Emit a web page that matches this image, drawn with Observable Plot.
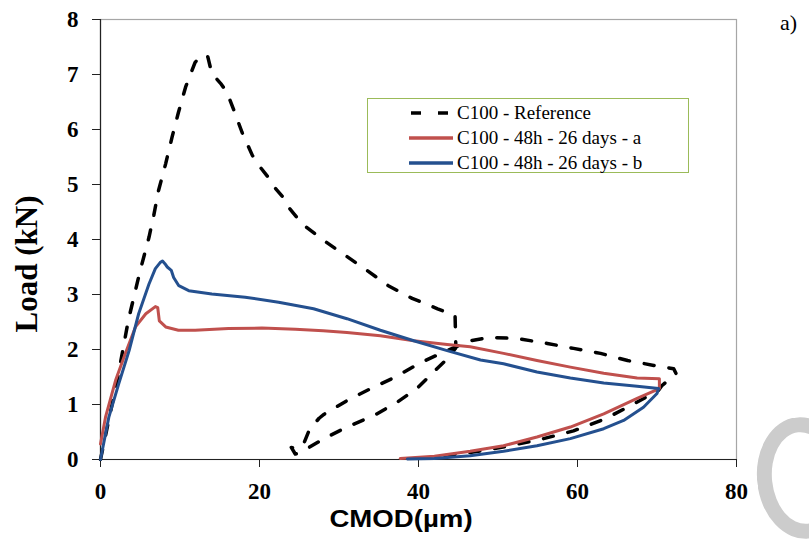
<!DOCTYPE html>
<html>
<head>
<meta charset="utf-8">
<script src="https://cdn.jsdelivr.net/npm/d3@7"></script>
<script src="https://cdn.jsdelivr.net/npm/@observablehq/plot@0.6"></script>
<style>
  html, body { margin: 0; padding: 0; background: #fff; overflow: hidden; }
  #wrap { position: relative; width: 809px; height: 542px; overflow: hidden; }
  #chart { position: absolute; left: 0; top: 0; }
  .ttl { position: absolute; white-space: nowrap; color: #000; }
  #legend { position: absolute; left: 367px; top: 98px; width: 322px; height: 75px; border: 1px solid #9BBB59; background: #fff; box-sizing: border-box; }
  .row { position: absolute; left: 41px; height: 24px; display: flex; align-items: center; font-family: "Liberation Serif", serif; font-size: 19px; color: #000; white-space: nowrap; }
  .row svg { margin-right: 4px; }
  #wm { position: absolute; left: 757px; top: 417px; width: 92px; height: 122px; box-sizing: border-box; border: 15px solid #cccccc; border-right-color: transparent; border-radius: 50%; transform: rotate(-6deg); }
</style>
</head>
<body>
<div id="wrap">
  <div id="chart"></div>
  <div class="ttl" id="ytitle" style="left: 27px; top: 264px; transform: translate(-50%, -50%) rotate(-90deg); font-family: 'Liberation Serif', serif; font-weight: bold; font-size: 31px;">Load (kN)</div>
  <div class="ttl" id="xtitle" style="left: 401px; top: 519px; transform: translate(-50%, -50%) scaleX(1.15); font-family: 'Liberation Sans', sans-serif; font-weight: bold; font-size: 24px;">CMOD(µm)</div>
  <div class="ttl" style="left: 780px; top: 10px; font-family: 'Liberation Serif', serif; font-size: 22px;">a)</div>
  <div id="wm"></div>
  <div id="legend"></div>
</div>
<script>
// Series names
const seriesNames = ["C100 - Reference", "C100 - 48h - 26 days - a", "C100 - 48h - 26 days - b"];

// C100 - Reference (dashed)
const refX = [0, 2.26, 3.5, 5.0, 6.1, 6.7, 7.3, 8.2, 9.0, 9.8, 10.7, 11.9, 12.8, 13.5, 14.0, 15.1, 15.9, 16.7, 17.8, 19.1, 19.9, 21.1, 22.0, 23.3, 23.8, 25.4, 28.1, 30.8, 33.5, 36.2, 39.2, 42.4, 44.6, 44.7, 43.4, 42.1, 39.8, 37.3, 34.4, 31.0, 28.1, 25.2, 24.5, 24.0, 24.8, 25.6, 26.3, 27.5, 28.1, 31.0, 34.0, 37.1, 40.0, 43.1, 46.5, 49.1, 52.4, 56.2, 59.5, 62.9, 66.3, 69.6, 72.1, 72.4, 71.7, 70.6, 70.2, 67.2, 63.5, 59.5, 55.5, 51.5, 47.5, 44.5, 42.5];
const refY = [0, 1.56, 2.53, 3.44, 4.04, 4.44, 4.89, 5.38, 5.86, 6.31, 6.77, 7.22, 7.36, 7.32, 7.02, 6.84, 6.68, 6.38, 5.95, 5.53, 5.35, 5.13, 4.93, 4.71, 4.56, 4.28, 3.98, 3.71, 3.44, 3.16, 2.93, 2.74, 2.62, 2.03, 1.8, 1.62, 1.29, 1.04, 0.8, 0.59, 0.38, 0.13, 0.1, 0.22, 0.2, 0.3, 0.55, 0.75, 0.82, 1.07, 1.29, 1.5, 1.74, 1.95, 2.16, 2.22, 2.2, 2.11, 2.02, 1.93, 1.8, 1.71, 1.65, 1.56, 1.48, 1.34, 1.26, 1.02, 0.74, 0.52, 0.37, 0.25, 0.15, 0.09, 0.05];

// C100 - 48h - 26 days - a (red)
const aX = [0, 0.63, 1.9, 3.1, 4.4, 5.7, 6.9, 7.2, 7.4, 8.2, 9.8, 11.9, 16.1, 20.3, 24.5, 28.0, 31.0, 35.2, 39.4, 43.6, 46.5, 50.7, 54.9, 59.1, 63.3, 67.5, 70.3, 70.3, 67.5, 63.3, 59.1, 54.9, 50.7, 46.5, 42.0, 37.7];
const aY = [0.28, 0.77, 1.44, 1.92, 2.41, 2.65, 2.78, 2.76, 2.52, 2.41, 2.35, 2.35, 2.38, 2.39, 2.37, 2.34, 2.31, 2.25, 2.16, 2.09, 2.05, 1.93, 1.8, 1.68, 1.57, 1.48, 1.47, 1.29, 1.11, 0.83, 0.59, 0.41, 0.25, 0.15, 0.06, 0.02];

// C100 - 48h - 26 days - b (blue)
const bX = [0, 1.05, 2.3, 3.6, 4.8, 6.1, 6.9, 7.5, 7.8, 8.1, 8.4, 8.9, 9.2, 9.85, 11.1, 14.0, 18.2, 22.4, 26.8, 31.0, 35.2, 39.4, 43.6, 47.8, 50.7, 54.9, 59.1, 63.3, 67.5, 70.2, 70.0, 68.3, 65.8, 63.3, 59.1, 54.9, 50.7, 46.5, 42.0, 38.6];
const bY = [0, 0.77, 1.38, 1.98, 2.65, 3.19, 3.47, 3.58, 3.61, 3.56, 3.5, 3.44, 3.31, 3.16, 3.07, 3.01, 2.95, 2.86, 2.74, 2.56, 2.35, 2.16, 1.98, 1.81, 1.74, 1.59, 1.48, 1.39, 1.33, 1.29, 1.2, 0.95, 0.71, 0.56, 0.38, 0.25, 0.15, 0.07, 0.02, 0.01];

// Ticks
const xTicks = [0, 20, 40, 60, 80];
const yTicks = [0, 1, 2, 3, 4, 5, 6, 7, 8];

const colors = ["#000000", "#C0504D", "#24508F"];

const toRows = (xs, ys, s) => xs.map((x, i) => ({x, y: ys[i], s}));
const refData = toRows(refX, refY, seriesNames[0]);
const aData = toRows(aX, aY, seriesNames[1]);
const bData = toRows(bX, bY, seriesNames[2]);

const chart = Plot.plot({
  width: 809,
  height: 542,
  marginLeft: 100,
  marginRight: 73,
  marginTop: 19,
  marginBottom: 83,
  style: { fontFamily: "'Liberation Serif', serif", fontSize: "22px", fontWeight: "bold", color: "#000", background: "transparent" },
  x: { domain: [0, 80], label: null },
  y: { domain: [0, 8], label: null },
  marks: [
    Plot.frame({ stroke: "#a6a6a6", strokeWidth: 1.2 }),
    Plot.ruleX([0], { stroke: "#222", strokeWidth: 1.2 }),
    Plot.ruleY([0], { stroke: "#222", strokeWidth: 1.2 }),
    Plot.axisX({ ticks: xTicks, tickSize: 8, tickPadding: 15, stroke: "#222", fontSize: 23, fontWeight: "bold", label: null }),
    Plot.axisY({ ticks: yTicks, tickSize: 8, tickPadding: 14, stroke: "#222", fontSize: 23, fontWeight: "bold", label: null }),
    Plot.line(refData, { x: "x", y: "y", stroke: colors[0], strokeWidth: 3.5, strokeDasharray: "10,15", strokeLinecap: "round", strokeLinejoin: "round" }),
    Plot.line(aData, { x: "x", y: "y", stroke: colors[1], strokeWidth: 3, strokeLinejoin: "round" }),
    Plot.line(bData, { x: "x", y: "y", stroke: colors[2], strokeWidth: 3, strokeLinejoin: "round" })
  ]
});
document.getElementById("chart").appendChild(chart);

// Legend
const legend = document.getElementById("legend");
const rowTops = [2, 27, 52];
seriesNames.forEach((name, i) => {
  const row = document.createElement("div");
  row.className = "row";
  row.style.top = rowTops[i] + "px";
  const dash = i === 0 ? 'stroke-dasharray="10,17"' : '';
  row.innerHTML = `<svg width="44" height="10"><line x1="${i === 0 ? 2 : 0}" y1="5" x2="44" y2="5" stroke="${colors[i]}" stroke-width="3.5" ${dash}/></svg><span>${name}</span>`;
  legend.appendChild(row);
});
</script>
</body>
</html>
